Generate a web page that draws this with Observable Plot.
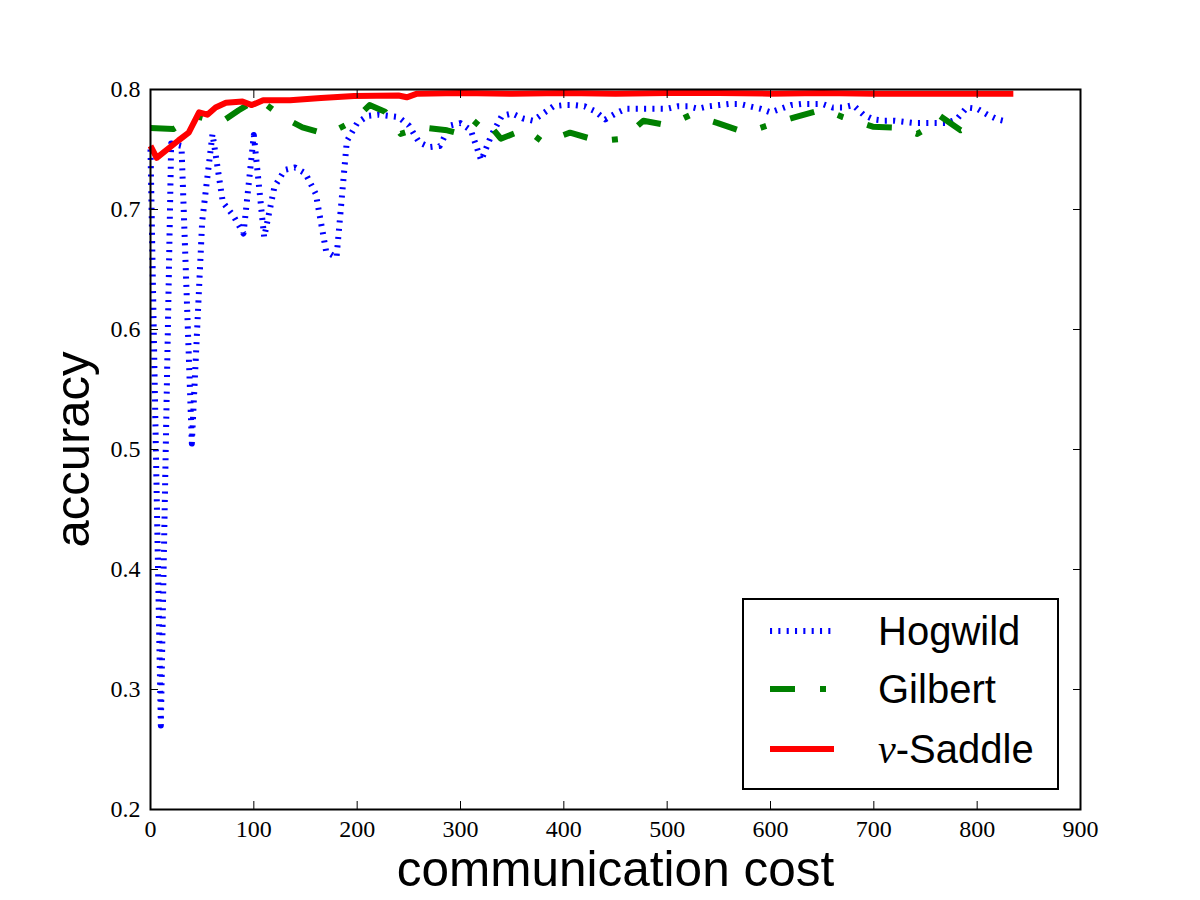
<!DOCTYPE html>
<html><head><meta charset="utf-8">
<script src="https://cdn.jsdelivr.net/npm/d3@7"></script>
<script src="https://cdn.jsdelivr.net/npm/@observablehq/plot@0.6"></script>
<style>body{margin:0;background:#fff} #chart{width:1200px;height:900px}</style>
</head><body><div id="chart"></div>
<script>
// ---- data ----
const hogwildX = [0,10,20,30,40,50,60,70,80,90,100,110,120,130,140,150,160,170,180,190,200,210,220,230,240,250,260,270,280,290,300,310,320,330,340,350,360,370,380,390,400,410,420,430,440,450,460,470,480,490,500,510,520,530,540,550,560,570,580,590,600,610,620,630,640,650,660,670,680,690,700,710,720,730,740,750,760,770,780,790,800,810,820,830];
const hogwildY = [0.750,0.270,0.755,0.753,0.505,0.690,0.763,0.706,0.695,0.680,
  0.762,0.677,0.719,0.733,0.735,0.730,0.713,0.665,0.660,0.757,
  0.772,0.778,0.779,0.778,0.777,0.770,0.756,0.752,0.753,0.770,
  0.772,0.766,0.741,0.762,0.778,0.780,0.776,0.774,0.780,0.786,
  0.787,0.787,0.786,0.782,0.775,0.780,0.784,0.784,0.784,0.784,
  0.784,0.786,0.786,0.784,0.786,0.787,0.788,0.788,0.786,0.784,
  0.781,0.784,0.787,0.788,0.788,0.788,0.785,0.785,0.787,0.779,
  0.775,0.774,0.774,0.773,0.772,0.772,0.772,0.772,0.775,0.785,
  0.784,0.779,0.775,0.773];
const gilbertX = [0,22,43,68,85,104,128,147,171,196,212,227,242,263,287,305,321,339,363,380,406,434,445,457,477,501,523,549,576,597,624,651,670,699,726,742,746,764,784,803];
const gilbertY = [0.768,0.767,0.778,0.7725,0.7825,0.7925,0.777,0.7685,0.7625,0.7735,0.787,0.7815,0.763,0.7685,0.766,0.762,0.778,0.759,0.767,0.756,0.764,0.757,0.758,0.759,0.774,0.770,0.779,0.772,0.764,0.770,0.777,0.7835,0.777,0.769,0.768,0.763,0.765,0.778,0.766,0.774];
const saddleX = [0,6,27,37,47,55,63,73,89,98,109,121,135,165,197,240,248,258,300,350,400,450,500,550,600,650,700,750,800,835];
const saddleY = [0.753,0.743,0.7575,0.764,0.781,0.779,0.785,0.789,0.790,0.787,0.791,0.791,0.791,0.793,0.7945,0.795,0.7935,0.7965,0.797,0.7965,0.797,0.7965,0.797,0.797,0.7965,0.797,0.7965,0.7965,0.7965,0.7965];
const xTicks = [0,100,200,300,400,500,600,700,800,900];
const yTicks = [0.2,0.3,0.4,0.5,0.6,0.7,0.8];
const seriesNames = ["Hogwild","Gilbert","Saddle"];
const seriesColors = ["#0000ff","#008000","#ff0000"];

const zip = (xs, ys) => xs.map((x, i) => ({x, y: ys[i]}));
const hog = zip(hogwildX, hogwildY);
const gil = zip(gilbertX, gilbertY);
const sad = zip(saddleX, saddleY);
const dashes = ["2.08,6.25", "25,25,6,25", null];

const plot = Plot.plot({
  width: 1200, height: 900,
  marginLeft: 150, marginRight: 120, marginTop: 89, marginBottom: 91,
  x: {domain: [0, 900]},
  y: {domain: [0.2, 0.8]},
  style: {background: "white", color: "black"},
  marks: [
    Plot.line(hog, {x: "x", y: "y", stroke: seriesColors[0], strokeWidth: 6, strokeDasharray: dashes[0], strokeLinecap: "butt", strokeLinejoin: "round"}),
    Plot.line(gil, {x: "x", y: "y", stroke: seriesColors[1], strokeWidth: 6, strokeDasharray: dashes[1], strokeLinecap: "butt", strokeLinejoin: "round"}),
    Plot.line(sad, {x: "x", y: "y", stroke: seriesColors[2], strokeWidth: 6, strokeLinecap: "butt", strokeLinejoin: "round"}),
    Plot.frame({stroke: "black", strokeWidth: 2}),
    Plot.axisX(xTicks, {anchor: "bottom", tickSize: -8, tickPadding: 18, fontSize: 24, fontFamily: "Liberation Serif", label: null, tickFormat: d => String(d)}),
    Plot.axisX(xTicks, {anchor: "top", tickSize: -8, tickFormat: () => "", label: null}),
    Plot.axisY(yTicks, {anchor: "left", tickSize: -8, tickPadding: 18, fontSize: 24, fontFamily: "Liberation Serif", label: null, tickFormat: d => d.toFixed(1)}),
    Plot.axisY(yTicks, {anchor: "right", tickSize: -8, tickFormat: () => "", label: null}),
    Plot.text(["communication cost"], {frameAnchor: "bottom", dy: 61, fontSize: 49.5, fontFamily: "Liberation Sans", textAnchor: "middle", lineAnchor: "middle", fill: "black"}),
    Plot.text(["accuracy"], {frameAnchor: "left", dx: -77, rotate: -90, fontSize: 49, fontFamily: "Liberation Sans", textAnchor: "middle", lineAnchor: "middle", fill: "black"})
  ]
});
document.getElementById("chart").appendChild(plot);

// legend (inside the frame, lower right)
const svg = d3.select(plot);
const lg = svg.append("g").attr("text-anchor", "start");
const boxRight = 1200 - 120 - 22, boxBottom = 900 - 91 - 20;
const boxW = 315, boxH = 190;
lg.append("rect").attr("x", boxRight - boxW).attr("y", boxBottom - boxH)
  .attr("width", boxW).attr("height", boxH)
  .attr("fill", "white").attr("stroke", "black").attr("stroke-width", 2);
const rowY = [631, 689, 749];
seriesNames.forEach((name, i) => {
  const x0 = boxRight - boxW + 27;
  lg.append("line").attr("x1", x0).attr("x2", x0 + 64).attr("y1", rowY[i]).attr("y2", rowY[i])
    .attr("stroke", seriesColors[i]).attr("stroke-width", 6)
    .attr("stroke-dasharray", dashes[i]).attr("stroke-linecap", "butt");
  const t = lg.append("text").attr("x", x0 + 108).attr("y", rowY[i] + 14)
    .attr("text-anchor", "start")
    .attr("font-family", "Liberation Sans").attr("font-size", 40).attr("fill", "black");
  if (name === "Saddle") {
    t.append("tspan").attr("font-family", "Liberation Serif").attr("font-style", "italic").text("ν");
    t.append("tspan").text("-Saddle");
  } else {
    t.text(name);
  }
});
</script>
</body></html>
